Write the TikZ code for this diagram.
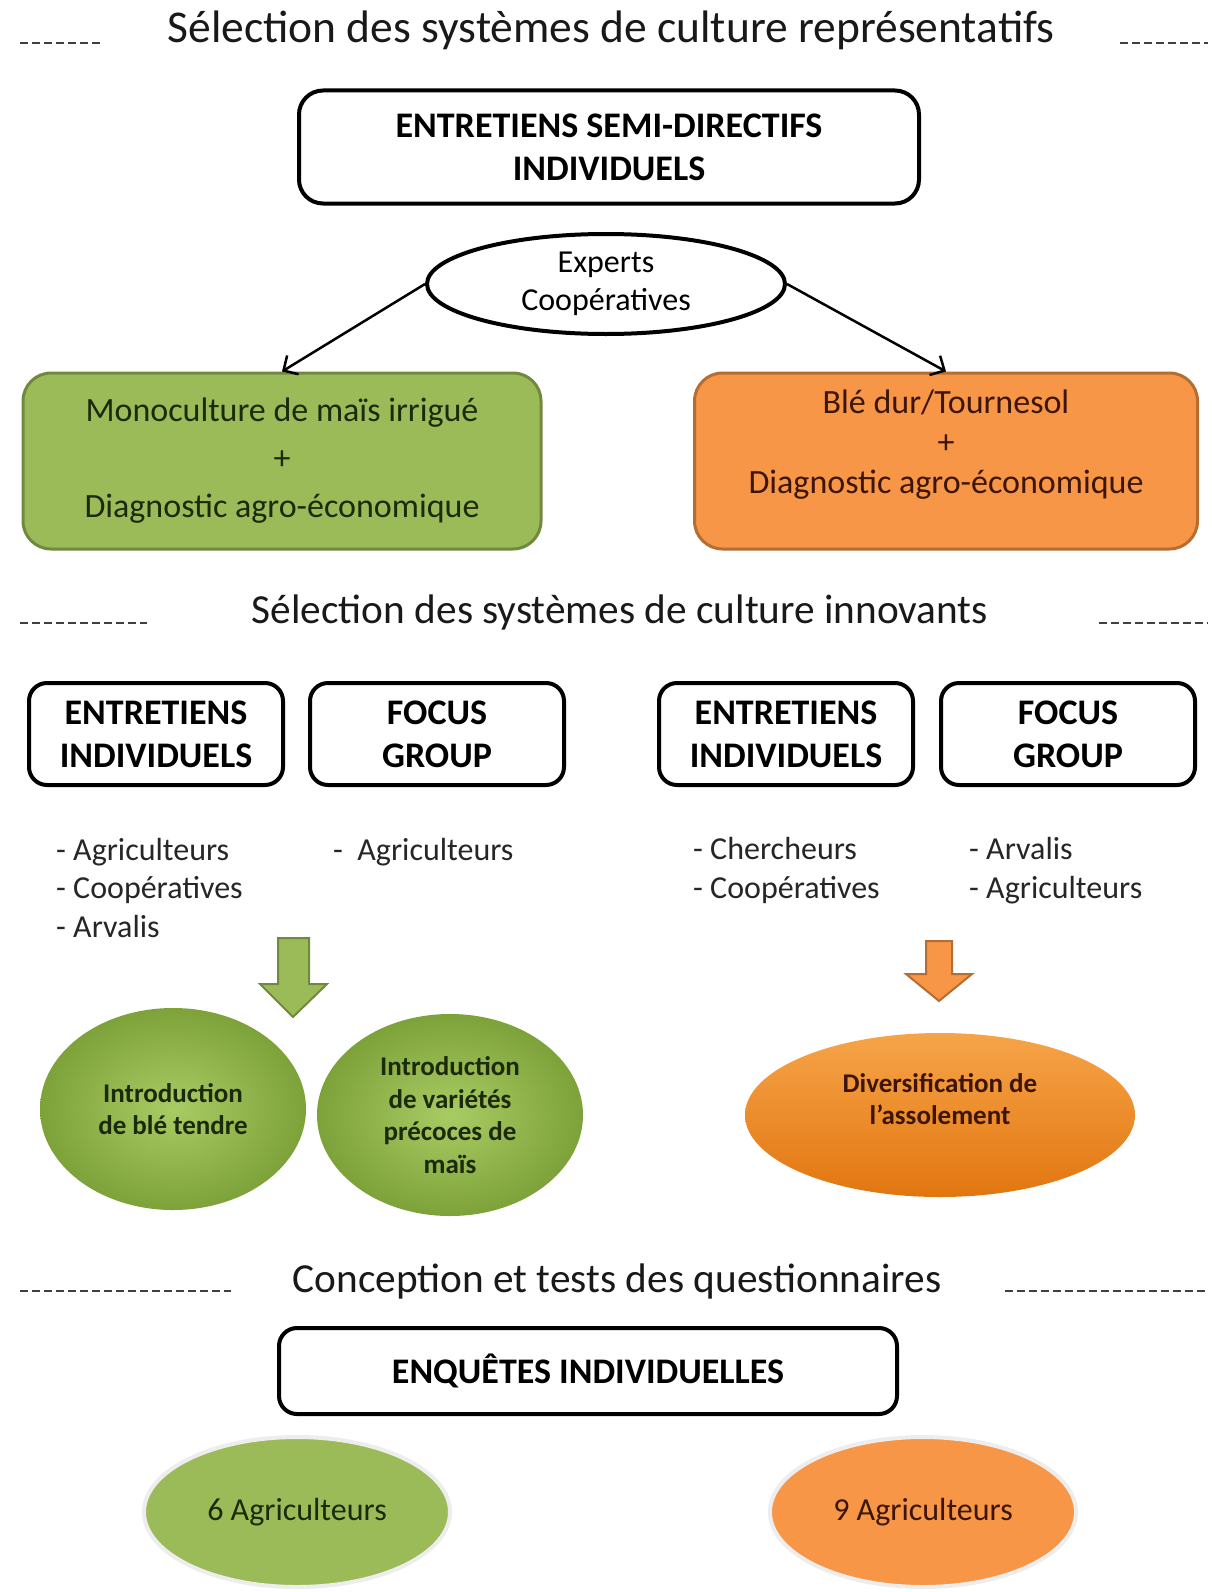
\documentclass[tikz,border=0pt]{standalone}
\usepackage{fontspec}
\setmainfont{Carlito}
\usepackage{xcolor}
\usepackage{tikz}
\usetikzlibrary{shapes.geometric, arrows.meta, positioning}

\definecolor{vert}{HTML}{9BBB59}
\definecolor{vertfonce}{HTML}{71893F}
\definecolor{vertclair}{HTML}{A9CB63}
\definecolor{vertombre}{HTML}{7EA23A}
\definecolor{oran}{HTML}{F79646}
\definecolor{oranfonce}{HTML}{B66D31}
\definecolor{oranclair}{HTML}{F6A449}
\definecolor{oranombre}{HTML}{E2760F}
\definecolor{texteV}{HTML}{1C2A0C}
\definecolor{texteO}{HTML}{3D1505}

\begin{document}
\begin{tikzpicture}[x=1pt, y=-1pt,
    titre/.style={font=\fontsize{41.3}{50}\selectfont, text=black!90},
    tirets/.style={dash pattern=on 8pt off 4pt, line width=2pt, black!75},
    cadre/.style={draw, line width=4pt, rounded corners=18pt, align=center, inner sep=0pt, font=\bfseries\fontsize{36}{43}\selectfont},
    systeme/.style={rounded corners=28pt, line width=3pt, align=center, inner sep=0pt, minimum width=518pt, minimum height=176pt, font=\fontsize{34}{48}\selectfont},
    liste/.style={anchor=base west, align=left, inner sep=0pt, font=\fontsize{32}{38.5}\selectfont, text=black!85},
    bulle/.style={ellipse, inner sep=0pt, align=center, font=\bfseries\fontsize{27}{32.5}\selectfont},
    fleche/.style={-{Straight Barb[length=11pt,width=22pt]}, line width=2.5pt},
    bloc/.style={line width=2pt, line join=miter}
  ]
  \useasboundingbox[fill=white] (0,0) rectangle (1211,1592);

  % systemes representatifs
  \node[titre, font=\fontsize{45.5}{54}\selectfont] (titre1) at (611,30) {Sélection des systèmes de culture représentatifs};
  \draw[tirets] (20,43) -- (102,43);
  \draw[tirets] (1120,43) -- (1208,43);

  \node[cadre, minimum width=620pt, minimum height=113pt, rounded corners=24pt] (semi) at (609,147) {ENTRETIENS SEMI-DIRECTIFS\\INDIVIDUELS};
  \node[ellipse, draw, line width=4pt, minimum width=358pt, minimum height=100pt, inner sep=0pt, align=center, font=\fontsize{32}{38.5}\selectfont] (experts) at (606,284) {Experts\\Coopératives};

  \node[systeme, draw=vertfonce, fill=vert, text=texteV] (mono) at (282,461) {Monoculture de maïs irrigué\\+\\Diagnostic agro-économique};
  \node[systeme, draw=oranfonce, fill=oran, minimum width=503pt] (bdt) at (946,461) {};
  \node[align=center, text=texteO, font=\fontsize{34}{40}\selectfont] (bdttexte) at (946,445) {Blé dur/Tournesol\\+\\Diagnostic agro-économique};

  \draw[fleche] (experts.west) -- (mono.north);
  \draw[fleche] (experts.east) -- (bdt.north);

  % systemes innovants
  \node[titre] (titre2) at (620,612) {Sélection des systèmes de culture innovants};
  \draw[tirets] (20,623) -- (147,623);
  \draw[tirets] (1099,623) -- (1208,623);

  \node[cadre, minimum width=254pt, minimum height=102pt] (entA) at (156,734) {ENTRETIENS\\INDIVIDUELS};
  \node[cadre, minimum width=254pt, minimum height=102pt] (focusB) at (437,734) {FOCUS\\GROUP};
  \node[cadre, minimum width=254pt, minimum height=102pt] (entC) at (786,734) {ENTRETIENS\\INDIVIDUELS};
  \node[cadre, minimum width=254pt, minimum height=102pt] (focusD) at (1068,734) {FOCUS\\GROUP};

  % base = derniere ligne
  \node[liste] (listeA) at (56,937) {- Agriculteurs\\- Coopératives\\- Arvalis};
  \node[liste] (listeB) at (333,860) {-\ \ Agriculteurs};
  \node[liste] (listeC) at (693,898) {- Chercheurs\\- Coopératives};
  \node[liste] (listeD) at (969,898) {- Arvalis\\- Agriculteurs};

  \draw[bloc, fill=vert, draw=vertfonce] (278,938) -- (309,938) -- (309,984) -- (327,984) -- (293,1017) -- (260,984) -- (278,984) -- cycle;
  \draw[bloc, fill=oran, draw=oranfonce] (926,941) -- (952,941) -- (952,974) -- (972,974) -- (939,1001) -- (906,974) -- (926,974) -- cycle;

  \node[bulle, minimum width=266pt, minimum height=202pt, inner color=vertclair, outer color=vertombre, text=texteV] (ble) at (173,1109) {Introduction\\de blé tendre};
  \node[bulle, minimum width=266pt, minimum height=202pt, inner color=vertclair, outer color=vertombre, text=texteV] (varietes) at (450,1115) {Introduction\\de variétés\\précoces de\\maïs};
  \node[bulle, minimum width=390pt, minimum height=164pt, top color=oranclair, bottom color=oranombre] (assol) at (940,1115) {};
  \node[align=center, text=texteO, font=\bfseries\fontsize{27}{32.5}\selectfont] (assoltexte) at (940,1099) {Diversification de\\l’assolement};

  % questionnaires
  \node[titre] (titre3) at (617,1281) {Conception et tests des questionnaires};
  \draw[tirets] (20,1291) -- (231,1291);
  \draw[tirets] (1005,1291) -- (1208,1291);

  \node[cadre, minimum width=618pt, minimum height=86pt] (enquetes) at (588,1371) {ENQUÊTES INDIVIDUELLES};

  \node[ellipse, minimum width=306pt, minimum height=150pt, fill=vert, draw=black!7, line width=4pt, text=texteV, font=\fontsize{32}{38}\selectfont] (six) at (297,1512) {6 Agriculteurs};
  \node[ellipse, minimum width=306pt, minimum height=150pt, fill=oran, draw=black!7, line width=4pt, text=texteO, font=\fontsize{32}{38}\selectfont] (neuf) at (923,1512) {9 Agriculteurs};
\end{tikzpicture}
\end{document}
